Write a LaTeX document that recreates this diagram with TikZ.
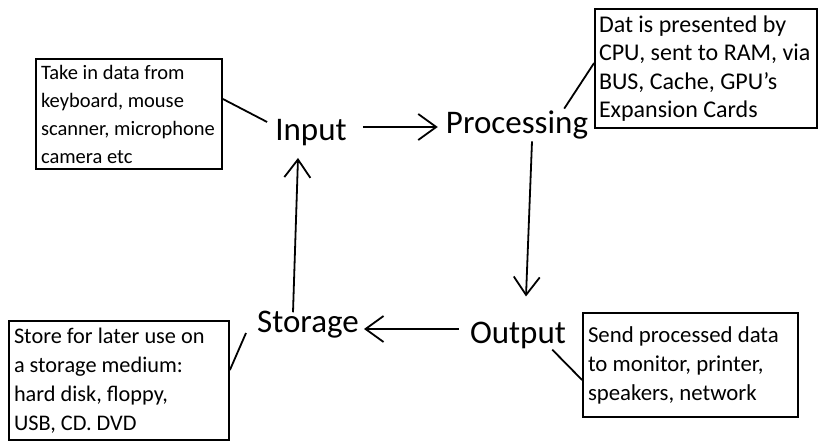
\documentclass[tikz,border=0pt]{standalone}
\usepackage{fontspec}
\setmainfont{Carlito}
\usetikzlibrary{arrows.meta}

\begin{document}
\begin{tikzpicture}[x=1pt,y=1pt]
    \useasboundingbox (0,0) rectangle (818,442);

    \begin{scope}[every node/.style={draw,line width=1.8pt,align=flush left,inner xsep=5pt,inner ysep=1pt}]
        \node[minimum height=110pt,text width=176pt,font=\fontsize{20.5}{28}\selectfont] (inbox) at (129,328) {Take in data from\\keyboard, mouse\\scanner, microphone\\camera etc};
        \node[minimum height=119pt,text width=214pt,inner xsep=4pt,font=\fontsize{24}{28.5}\selectfont] (procbox) at (706,373.5) {Dat is presented by\\CPU, sent to RAM, via\\BUS, Cache, GPU's\\Expansion Cards};
        \node[minimum height=104pt,text width=205pt,font=\fontsize{22.8}{29}\selectfont] (outbox) at (690.5,77) {Send processed data\\to monitor, printer,\\speakers, network};
        \node[minimum height=119pt,text width=210pt,font=\fontsize{22.3}{29}\selectfont] (storebox) at (119,61.5) {Store for later use on\\a storage medium:\\hard disk, floppy,\\USB, CD. DVD};
    \end{scope}

    \begin{scope}[every node/.style={inner sep=0pt,font=\fontsize{33}{38}\selectfont}]
        \node (input) at (311,309.5) {Input};
        \node (processing) at (517,317) {Processing};
        \node (output) at (518,107) {Output};
        \node (storage) at (308,117) {Storage};
    \end{scope}

    \begin{scope}[line width=1.8pt]
        \draw ([yshift=15pt]inbox.east) -- ([xshift=-8pt,yshift=10.5pt]input.west);
        \draw ([yshift=5.5pt]procbox.west) -- ([xshift=-24pt,yshift=2pt]processing.north east);
        \draw ([yshift=-15pt]outbox.west) -- ([xshift=-14pt,yshift=-1pt]output.south east);
        \draw ([yshift=10.5pt]storebox.east) -- ([xshift=-11pt,yshift=-8pt]storage.west);
    \end{scope}

    \begin{scope}[line width=1.8pt, -{Straight Barb[length=18pt,width=26pt]}]
        \draw ([xshift=16pt,yshift=5.5pt]input.east) -- ([xshift=-8pt,yshift=-2pt]processing.west);
        \draw ([xshift=15pt,yshift=-2pt]processing.south) -- ([xshift=8pt,yshift=25pt]output.north);
        \draw ([xshift=-11pt,yshift=6pt]output.west) -- ([xshift=5pt,yshift=-4pt]storage.east);
        \draw ([xshift=-15pt,yshift=-1pt]storage.north) -- ([xshift=-13pt,yshift=-12pt]input.south);
    \end{scope}

\end{tikzpicture}
\end{document}
